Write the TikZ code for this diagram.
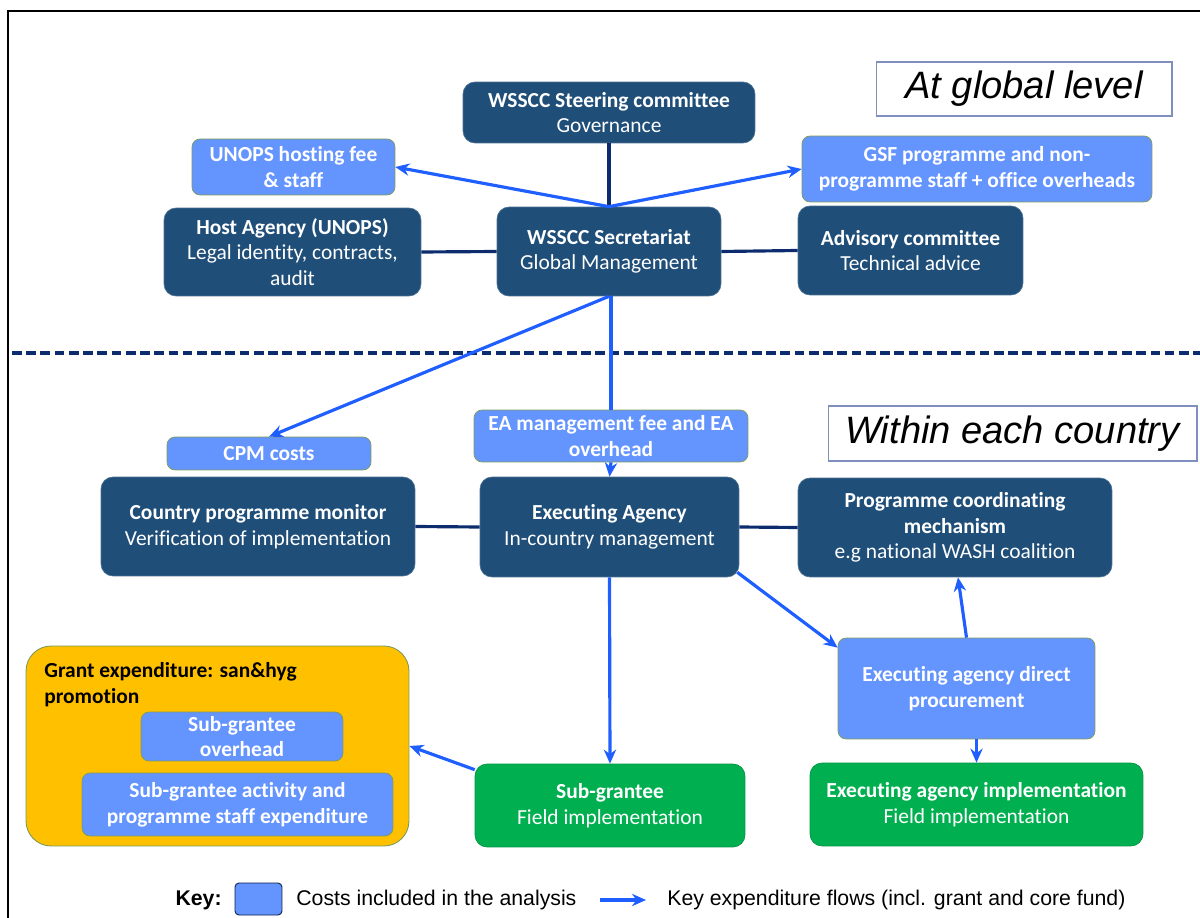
\documentclass[tikz,border=0pt]{standalone}
\usepackage{fontspec}
\setmainfont{Carlito}[Ligatures=NoCommon]
\newfontfamily\arialfont{Liberation Sans}
\usetikzlibrary{arrows.meta,calc}
\definecolor{darkbox}{HTML}{1F4E79}
\definecolor{lightbox}{HTML}{6495FF}
\definecolor{greenbox}{HTML}{00B050}
\definecolor{orangebox}{HTML}{FFC000}
\definecolor{flowblue}{HTML}{1F5EFF}
\definecolor{navyline}{HTML}{0C2C6E}
\definecolor{oliveedge}{HTML}{7E9A58}
\definecolor{labeledge}{HTML}{7F8FBF}
\tikzset{
  boxtext/.style={text=white, align=center, font=\fontsize{12.2}{14.6}\selectfont, inner sep=2pt},
  darkbox/.style={boxtext, fill=darkbox, draw=darkbox!80!white, line width=0.4pt, rounded corners=0.24cm},
  costbox/.style={boxtext, fill=lightbox, draw=oliveedge, line width=0.4pt, rounded corners=0.16cm},
  greenbox/.style={boxtext, fill=greenbox, draw=greenbox!85!black, line width=0.4pt, rounded corners=0.24cm},
  levellabel/.style={draw=labeledge, line width=0.6pt, fill=white, font=\arialfont\itshape\fontsize{21.7}{26}\selectfont},
  flow/.style={draw=flowblue, line width=1.8pt, -{Stealth[length=8pt,width=7pt]}},
  flowplain/.style={draw=flowblue, line width=1.8pt},
  link/.style={draw=navyline, line width=1.8pt},
  keytext/.style={font=\arialfont\fontsize{12.1}{14}\selectfont, anchor=west, inner sep=0pt}
}
\begin{document}
\begin{tikzpicture}[x=0.02cm,y=-0.02cm]
\useasboundingbox (0,0) rectangle (1200,918);
% frame
\draw[black, line width=1.2pt] (8,918) -- (8,11) -- (1200,11);
% dashed divider
\draw[navyline, line width=2.3pt, dash pattern=on 5.5pt off 2.6pt] (12,353) -- (1200,353);

% global level
\node[darkbox, minimum width=5.84cm, minimum height=1.22cm] (steer) at (609,112.5) {\textbf{WSSCC Steering committee}\\Governance};
\node[costbox, minimum width=4.06cm, minimum height=1.12cm] (unopsfee) at (293.5,167) {\textbf{UNOPS hosting fee}\\\textbf{\& staff}};
\node[costbox, minimum width=7.0cm, minimum height=1.32cm] (gsf) at (977,169) {\textbf{GSF programme and non-}\\\textbf{programme staff + office overheads}};
\node[darkbox, minimum width=5.14cm, minimum height=1.76cm] (host) at (292.5,252) {\textbf{Host Agency (UNOPS)}\\Legal identity, contracts,\\audit};
\node[darkbox, minimum width=4.48cm, minimum height=1.78cm] (sec) at (609,251.5) {\textbf{WSSCC Secretariat}\\Global Management};
\node[darkbox, minimum width=4.5cm, minimum height=1.78cm] (adv) at (910.5,250.5) {\textbf{Advisory committee}\\Technical advice};
\node[levellabel, minimum width=5.92cm, minimum height=1.08cm] (global) at (1024,89) {At global level};

% country level
\node[costbox, minimum width=4.08cm, minimum height=0.66cm] (cpm) at (269,453.5) {\textbf{CPM costs}};
\node[costbox, minimum width=5.48cm, minimum height=1.04cm] (eafee) at (611,436) {\textbf{EA management fee and EA}\\\textbf{overhead}};
\node[levellabel, minimum width=7.38cm, minimum height=1.1cm] (country) at (1012.5,433.5) {Within each country};
\node[darkbox, minimum width=6.28cm, minimum height=1.98cm] (cpmm) at (258,526.5) {\textbf{Country programme monitor}\\Verification of implementation};
\node[darkbox, minimum width=5.18cm, minimum height=2.0cm] (exec) at (609.5,527) {\textbf{Executing Agency}\\In-country management};
\node[darkbox, minimum width=6.28cm, minimum height=1.98cm] (prog) at (955,527.5) {\textbf{Programme coordinating}\\\textbf{mechanism}\\e.g national WASH coalition};
\node[costbox, minimum width=5.14cm, minimum height=2.02cm] (proc) at (966.5,688.5) {\textbf{Executing agency direct}\\\textbf{procurement}};

% grant expenditure group
\node[fill=orangebox, draw=oliveedge, line width=0.5pt, rounded corners=0.5cm, minimum width=7.66cm, minimum height=4.0cm] (grant) at (217.5,746) {};
\node[anchor=north west, align=left, inner sep=0pt, font=\fontsize{12.2}{14.6}\selectfont\bfseries] (granttitle) at (44,662) {Grant expenditure: san\&hyg\\promotion};
\node[costbox, minimum width=4.04cm, minimum height=0.98cm] (subover) at (242,736.5) {\textbf{Sub-grantee}\\\textbf{overhead}};
\node[costbox, minimum width=6.22cm, minimum height=1.26cm] (subact) at (237.5,804.5) {\textbf{Sub-grantee activity and}\\\textbf{programme staff expenditure}};

\node[greenbox, minimum width=5.4cm, minimum height=1.66cm] (sub) at (610,805.5) {\textbf{Sub-grantee}\\Field implementation};
\node[greenbox, minimum width=6.66cm, minimum height=1.66cm] (impl) at (976.5,804.5) {\textbf{Executing agency implementation}\\Field implementation};

% structural links
\draw[link] (steer.south) -- (sec.north);
\draw[link] (host.east) -- (sec.west);
\draw[link] (sec.east) -- (adv.west);
\draw[link] (cpmm.east) -- (exec.west);
\draw[link] (exec.east) -- (prog.west);

% expenditure flows
\draw[flow] (sec.north) -- (unopsfee.east);
\draw[flow] (sec.north) -- (gsf.west);
\draw[flow] (sec.south) -- (cpm.north);
\draw[flowplain] ($(sec.south)+(2,0)$) -- (eafee.north);
\draw[flow] (eafee.south) -- (exec.north);
\draw[flow] (exec.south) -- (sub.north);
\draw[flow] ($(exec.south east)+(-2,-5)$) -- ($(proc.north west)+(0,10)$);
\draw[flow] (proc.north) -- ($(prog.south)+(3,0)$);
\draw[flow] (proc.south -| impl.north) -- (impl.north);
\draw[flow] ($(sub.north west)+(0,6)$) -- (grant.east);

% key
\node[font=\arialfont\bfseries\fontsize{12.1}{14}\selectfont, anchor=east, inner sep=0pt] (keylabel) at (222,900) {Key:};
\node[fill=lightbox, draw=navyline!70!black, line width=0.5pt, rounded corners=0.08cm, minimum width=0.94cm, minimum height=0.64cm, inner sep=0pt] (keybox) at (258.5,899) {};
\node[keytext] (keycost) at (296,900) {Costs included in the analysis};
\coordinate (keyfrom) at (600,900);
\coordinate (keyto) at (646,900);
\draw[flow] (keyfrom) -- (keyto);
\node[keytext] (keyflow) at (667,900) {Key expenditure flows (incl. grant and core fund)};
\end{tikzpicture}
\end{document}
